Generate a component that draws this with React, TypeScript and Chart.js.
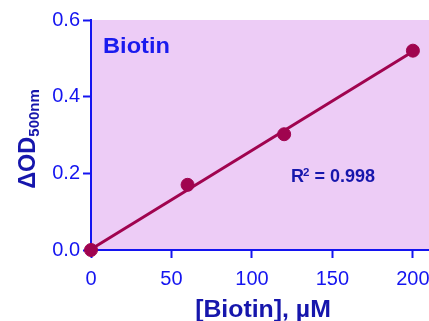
import React, { useEffect, useRef } from "react";
import { Chart, registerables } from "chart.js";

Chart.register(...registerables);

const concentrations = [0, 60, 120, 200];
const odValues = [0.0, 0.17, 0.302, 0.52];
const fitX = [0, 200];
const fitY = [0.002, 0.518];
const xTickValues = [0, 50, 100, 150, 200];
const yTickValues = [0, 0.2, 0.4, 0.6];

const FONT = "'Liberation Sans', Arial, Helvetica, sans-serif";
const AXIS_BLUE = "#1414F0";
const TITLE_BLUE = "#1616AC";
const MAROON = "#A0044F";
const BG = "#EDCCF6";

const decorPlugin = {
  id: "decor",
  beforeDraw(chart: any) {
    const { ctx, chartArea } = chart;
    ctx.save();
    ctx.fillStyle = BG;
    ctx.fillRect(chartArea.left, chartArea.top, chartArea.right - chartArea.left, chartArea.bottom - chartArea.top);
    ctx.restore();
  },
  afterDraw(chart: any) {
    const { ctx, chartArea } = chart;
    ctx.save();
    // Y title with subscript
    const main = "ΔOD";
    const sub = "500nm";
    ctx.font = `bold 23.5px ${FONT}`;
    const w1 = ctx.measureText(main).width;
    ctx.font = `bold 15px ${FONT}`;
    const w2 = ctx.measureText(sub).width;
    const total = w1 + w2;
    const cy = (chartArea.top + chartArea.bottom) / 2 + 4;
    ctx.translate(35, cy);
    ctx.rotate(-Math.PI / 2);
    ctx.fillStyle = TITLE_BLUE;
    ctx.textBaseline = "alphabetic";
    ctx.textAlign = "left";
    ctx.font = `bold 23.5px ${FONT}`;
    ctx.fillText(main, -total / 2, 0);
    ctx.font = `bold 15px ${FONT}`;
    ctx.fillText(sub, -total / 2 + w1, 3.5);
    ctx.restore();

    // X title
    ctx.save();
    ctx.fillStyle = TITLE_BLUE;
    ctx.font = `bold 23px ${FONT}`;
    ctx.textAlign = "center";
    ctx.textBaseline = "alphabetic";
    const cx = (chartArea.left + chartArea.right) / 2 + 3;
    ctx.translate(cx, 317);
    ctx.scale(1.08, 1);
    ctx.fillText("[Biotin], µM", 0, 0);
    ctx.restore();

    // Biotin label
    ctx.save();
    ctx.fillStyle = "#1A1AEE";
    ctx.font = `bold 22.5px ${FONT}`;
    ctx.textAlign = "left";
    ctx.textBaseline = "alphabetic";
    ctx.translate(chartArea.left + 12, 53);
    ctx.scale(1.05, 1);
    ctx.fillText("Biotin", 0, 0);
    ctx.restore();

    // R² label
    ctx.save();
    ctx.fillStyle = TITLE_BLUE;
    ctx.textAlign = "left";
    ctx.textBaseline = "alphabetic";
    let x = 291;
    const by = 182;
    ctx.font = `bold 18px ${FONT}`;
    ctx.fillText("R", x, by);
    x += ctx.measureText("R").width;
    ctx.font = `bold 11.5px ${FONT}`;
    ctx.fillText("2", x - 1, by - 6.5);
    x += ctx.measureText("2").width - 1;
    ctx.font = `bold 18px ${FONT}`;
    ctx.fillText(" = 0.998", x, by);
    ctx.restore();
  },
};

export default function App() {
  const canvasRef = useRef<HTMLCanvasElement | null>(null);

  useEffect(() => {
    document.body.style.margin = "0";
    const canvas = canvasRef.current;
    if (!canvas) return;
    const chart = new Chart(canvas, {
      type: "scatter",
      data: {
        datasets: [
          {
            type: "line",
            label: "fit",
            data: fitX.map((x, i) => ({ x, y: fitY[i] })),
            borderColor: MAROON,
            borderWidth: 3,
            pointRadius: 0,
            fill: false,
            clip: false as any,
            order: 2,
          } as any,
          {
            label: "Biotin",
            data: concentrations.map((x, i) => ({ x, y: odValues[i] })),
            backgroundColor: MAROON,
            borderColor: MAROON,
            pointRadius: 6.5,
            pointHoverRadius: 6.5,
            showLine: false,
            clip: false as any,
            order: 1,
          } as any,
        ],
      },
      options: {
        responsive: false,
        devicePixelRatio: 1,
        animation: false,
        layout: { autoPadding: false, padding: { top: 20, right: 0, left: 0, bottom: 0 } },
        plugins: {
          legend: { display: false },
          tooltip: { enabled: false },
        },
        scales: {
          x: {
            type: "linear",
            min: 0,
            max: 210,
            afterBuildTicks: (scale: any) => {
              scale.ticks = xTickValues.map((v) => ({ value: v }));
            },
            afterFit: (scale: any) => {
              scale.height = 71;
              scale.paddingLeft = 0;
              scale.paddingRight = 0;
            },
            grid: {
              drawOnChartArea: false,
              drawTicks: true,
              tickLength: 8,
              tickWidth: 2,
              tickColor: AXIS_BLUE,
            },
            border: { display: true, color: AXIS_BLUE, width: 2 },
            ticks: {
              color: AXIS_BLUE,
              font: { family: FONT, size: 20 },
              padding: 9,
              maxRotation: 0,
              callback: (v: any) => String(v),
            },
          },
          y: {
            type: "linear",
            min: 0,
            max: 0.6,
            afterBuildTicks: (scale: any) => {
              scale.ticks = yTickValues.map((v) => ({ value: v }));
            },
            afterFit: (scale: any) => {
              scale.width = 91;
              scale.paddingTop = 0;
              scale.paddingBottom = 0;
            },
            grid: {
              drawOnChartArea: false,
              drawTicks: true,
              tickLength: 8,
              tickWidth: 2,
              tickColor: AXIS_BLUE,
            },
            border: { display: true, color: AXIS_BLUE, width: 2 },
            ticks: {
              color: AXIS_BLUE,
              font: { family: FONT, size: 20 },
              padding: 3,
              callback: (v: any) => Number(v).toFixed(1),
            },
          },
        },
      },
      plugins: [decorPlugin],
    });
    return () => chart.destroy();
  }, []);

  return (
    <div style={{ position: "absolute", left: 0, top: 0, width: 429, height: 321, background: "#fff" }}>
      <canvas ref={canvasRef} width={429} height={321} />
    </div>
  );
}
